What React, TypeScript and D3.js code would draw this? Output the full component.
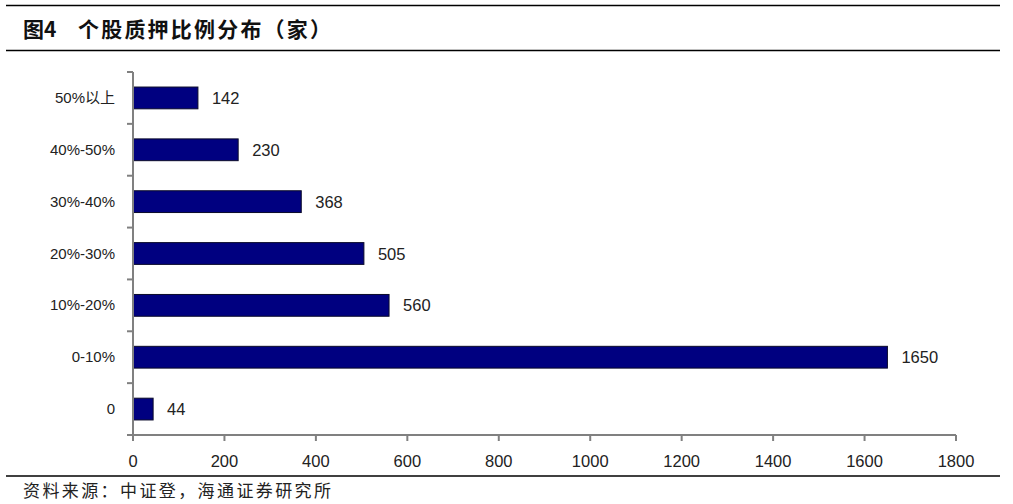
import { useEffect, useRef } from "react";
import * as d3 from "d3";

const categories = ["50%以上", "40%-50%", "30%-40%", "20%-30%", "10%-20%", "0-10%", "0"];
const counts = [142, 230, 368, 505, 560, 1650, 44];
const xTicks = [0, 200, 400, 600, 800, 1000, 1200, 1400, 1600, 1800];

const W = 1013;
const H = 504;

export default function App() {
  const ref = useRef<SVGSVGElement>(null);

  useEffect(() => {
    const svg = d3.select(ref.current);
    svg.selectAll("*").remove();

    const left = 133;
    const right = 956;
    const top = 72;
    const bottom = 435;

    const x = d3.scaleLinear().domain([0, 1800]).range([left, right]);
    const y = d3.scaleBand().domain(categories).range([top, bottom]).paddingInner(0.58).paddingOuter(0.29);

    // header rules + title
    svg.append("line").attr("x1", 6).attr("x2", 1000).attr("y1", 5.5).attr("y2", 5.5).attr("stroke", "#000").attr("stroke-width", 1.5);
    svg.append("line").attr("x1", 6).attr("x2", 1000).attr("y1", 50.5).attr("y2", 50.5).attr("stroke", "#000").attr("stroke-width", 1.5);
    const titleStyle = (t: d3.Selection<SVGTextElement, unknown, null, undefined>) =>
      t
        .attr("font-family", "Noto Sans CJK SC, sans-serif")
        .attr("font-weight", "bold")
        .attr("font-size", 21)
        .attr("fill", "#111");
    svg.append("text").attr("x", 23).attr("y", 37).call(titleStyle).text("图4");
    svg
      .append("text")
      .attr("x", 78)
      .attr("y", 37)
      .call(titleStyle)
      .attr("letter-spacing", 2.2)
      .text("个股质押比例分布（家）");

    // bars
    const g = svg.append("g");
    g.selectAll("rect")
      .data(categories)
      .join("rect")
      .attr("x", x(0))
      .attr("y", (d) => y(d)!)
      .attr("width", (_, i) => x(counts[i]) - x(0))
      .attr("height", y.bandwidth())
      .attr("fill", "#000080")
      .attr("stroke", "#0a0a2a")
      .attr("stroke-width", 1);

    g.selectAll("text.val")
      .data(categories)
      .join("text")
      .attr("class", "val")
      .attr("x", (_, i) => x(counts[i]) + 14)
      .attr("y", (d) => y(d)! + y.bandwidth() / 2 + 6)
      .attr("font-family", "Liberation Sans, Arial, sans-serif")
      .attr("font-size", 16.5)
      .attr("fill", "#222")
      .text((_, i) => counts[i]);

    // y axis
    const ya = svg.append("g").attr("transform", `translate(${left},0)`);
    ya.append("line").attr("y1", top).attr("y2", bottom).attr("stroke", "#808080").attr("stroke-width", 2);
    const bounds = d3.range(categories.length + 1).map((i) => top + i * ((bottom - top) / categories.length));
    ya.selectAll("line.tk")
      .data(bounds)
      .join("line")
      .attr("class", "tk")
      .attr("x1", -6)
      .attr("x2", 0)
      .attr("y1", (d) => d)
      .attr("y2", (d) => d)
      .attr("stroke", "#808080")
      .attr("stroke-width", 2);
    ya.selectAll("text")
      .data(categories)
      .join("text")
      .attr("x", -18)
      .attr("y", (d) => y(d)! + y.bandwidth() / 2 + 5)
      .attr("text-anchor", "end")
      .attr("font-family", "Liberation Sans, Noto Sans CJK SC, sans-serif")
      .attr("font-size", 15)
      .attr("fill", "#222")
      .text((d) => d);

    // x axis
    const xa = svg.append("g").attr("transform", `translate(0,${bottom})`);
    xa.append("line").attr("x1", left).attr("x2", right).attr("stroke", "#808080").attr("stroke-width", 2);
    xa.selectAll("line.tk")
      .data(xTicks)
      .join("line")
      .attr("class", "tk")
      .attr("x1", (d) => x(d))
      .attr("x2", (d) => x(d))
      .attr("y1", 0)
      .attr("y2", 6)
      .attr("stroke", "#808080")
      .attr("stroke-width", 2);
    xa.selectAll("text")
      .data(xTicks)
      .join("text")
      .attr("x", (d) => x(d))
      .attr("y", 32)
      .attr("text-anchor", "middle")
      .attr("font-family", "Liberation Sans, Arial, sans-serif")
      .attr("font-size", 16.5)
      .attr("fill", "#222")
      .text((d) => d);

    // footer
    svg.append("line").attr("x1", 6).attr("x2", 1000).attr("y1", 476).attr("y2", 476).attr("stroke", "#000").attr("stroke-width", 1.5);
    svg
      .append("text")
      .attr("x", 23)
      .attr("y", 497)
      .attr("font-family", "Noto Sans CJK SC, sans-serif")
      .attr("font-size", 17)
      .attr("letter-spacing", 2.4)
      .attr("fill", "#222")
      .text("资料来源：中证登，海通证券研究所");
  }, []);

  return (
    <svg
      ref={ref}
      width={W}
      height={H}
      style={{ position: "absolute", left: 0, top: 0, background: "#fff" }}
    />
  );
}
